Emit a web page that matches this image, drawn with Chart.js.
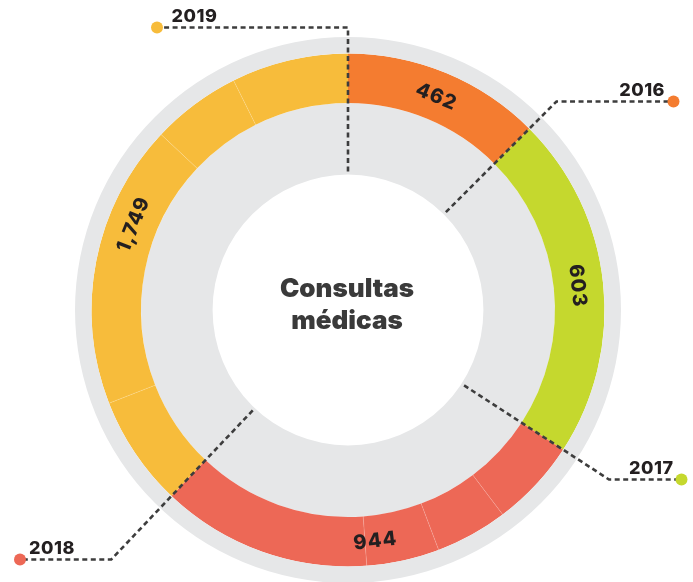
<!DOCTYPE html>
<html>
<head>
<meta charset="utf-8">
<script src="https://cdn.jsdelivr.net/npm/chart.js@4.4.1/dist/chart.umd.min.js"></script>
<style>
  html, body { margin: 0; padding: 0; background: #fff; }
  #wrap { width: 693px; height: 582px; }
</style>
</head>
<body>
<div id="wrap"><canvas id="consultas-chart" width="693" height="582"></canvas></div>
<script>
// data
const years = ['2016', '2017', '2018', '2019'];
const consultas = [462, 603, 944, 1749];
// arc sizes as drawn in the original (degrees); 2018 and 2019 show faint seams
const arc2016 = [45];
const arc2017 = [78];
const arc2018 = [19.9, 16.4, 16.5, 47.7];
const arc2019 = [25.2, 64.5, 20.3, 26.5];
const yearColors = ['#F47C30', '#C5D82E', '#ED6856', '#F7BC3B'];
const dotColors = ['#F47C30', '#C5D82E', '#ED6856', '#F7BC3B'];

// callout layout (dot x, row y, label x, label alignment)
const callouts = [
    { dotX: 673.5, rowY: 101.5, labelX: 665, align: 'right' },
    { dotX: 681.5, rowY: 479.5, labelX: 673.5, align: 'right' },
    { dotX: 20, rowY: 559.5, labelX: 29, align: 'left' },
    { dotX: 157, rowY: 27.5, labelX: 171.5, align: 'left' }
];

const gray = '#E6E7E8';
const ink = '#231F20';
const FONT = 'Inter, "Open Sans", sans-serif';

const arcs = [arc2016, arc2017, arc2018, arc2019];
const pieceData = [];
const pieceColor = [];
const pieceYear = [];
arcs.forEach((parts, i) => {
    parts.forEach(p => {
        pieceData.push(p);
        pieceColor.push(yearColors[i]);
        pieceYear.push(i);
    });
});

function fmt(n) {
    return n.toLocaleString('en-US');
}

// draws seams, values, leader lines and center title
const ringLabels = {
    id: 'ringLabels',
    afterDatasetsDraw(chart) {
        const ctx = chart.ctx;
        const els = chart.getDatasetMeta(1).data;
        const cx = els[0].x;
        const cy = els[0].y;
        const innerGray = chart.getDatasetMeta(2).data[0];

        // faint seams inside a year
        ctx.save();
        ctx.strokeStyle = 'rgba(255,255,255,0.22)';
        ctx.lineWidth = 0.8;
        els.forEach((a, k) => {
            if (k > 0 && pieceYear[k] === pieceYear[k - 1]) {
                const ang = a.startAngle;
                ctx.beginPath();
                ctx.moveTo(cx + Math.cos(ang) * a.innerRadius, cy + Math.sin(ang) * a.innerRadius);
                ctx.lineTo(cx + Math.cos(ang) * a.outerRadius, cy + Math.sin(ang) * a.outerRadius);
                ctx.stroke();
            }
        });
        ctx.restore();

        years.forEach((year, i) => {
            const mine = els.filter((_, k) => pieceYear[k] === i);
            const start = mine[0].startAngle;
            const end = mine[mine.length - 1].endAngle;
            const mid = (start + end) / 2;
            const r = (mine[0].innerRadius + mine[0].outerRadius) / 2;

            // value on the ring
            let rot = mid + Math.PI / 2;
            rot = Math.atan2(Math.sin(rot), Math.cos(rot));
            if (rot > Math.PI * 0.56) rot -= Math.PI;
            if (rot < -Math.PI * 0.56) rot += Math.PI;
            ctx.save();
            ctx.translate(cx + Math.cos(mid) * r, cy + Math.sin(mid) * r);
            ctx.rotate(rot);
            ctx.fillStyle = ink;
            ctx.font = '800 20px ' + FONT;
            ctx.textAlign = 'center';
            ctx.textBaseline = 'middle';
            ctx.letterSpacing = '1px';
            ctx.fillText(fmt(consultas[i]), 0, 1);
            ctx.restore();

            // leader line along the end boundary of the year
            const c = callouts[i];
            const r0 = innerGray.innerRadius + 3;
            const sx = cx + Math.cos(end) * r0;
            const sy = cy + Math.sin(end) * r0;
            const t = (c.rowY - cy) / Math.sin(end);
            let ex = cx + Math.cos(end) * t;
            if (!isFinite(ex) || Math.abs(Math.sin(end)) < 0.01) ex = cx;
            ctx.save();
            ctx.strokeStyle = '#3D3D3D';
            ctx.lineWidth = 2.6;
            ctx.setLineDash([5, 3.5]);
            ctx.beginPath();
            ctx.moveTo(sx, sy);
            ctx.lineTo(ex, c.rowY);
            ctx.lineTo(c.dotX, c.rowY);
            ctx.stroke();
            ctx.setLineDash([]);
            ctx.fillStyle = dotColors[i];
            ctx.beginPath();
            ctx.arc(c.dotX, c.rowY, 6, 0, Math.PI * 2);
            ctx.fill();
            ctx.fillStyle = ink;
            ctx.font = '800 18px ' + FONT;
            ctx.textAlign = c.align;
            ctx.textBaseline = 'alphabetic';
            ctx.letterSpacing = '0.5px';
            ctx.fillText(year, c.labelX, c.rowY - 6);
            ctx.restore();
        });

        // center title
        ctx.save();
        ctx.fillStyle = '#3A3A3A';
        ctx.font = '900 26px ' + FONT;
        ctx.textAlign = 'center';
        ctx.textBaseline = 'alphabetic';
        ctx.fillText('Consultas', cx - 1, 297);
        ctx.fillText('médicas', cx - 1, 329);
        ctx.restore();
    }
};

new Chart(document.querySelector('#consultas-chart').getContext('2d'), {
    type: 'doughnut',
    data: {
        labels: pieceYear.map(i => years[i]),
        datasets: [
            { data: [1], backgroundColor: gray, borderWidth: 0, weight: 16.5 },
            { data: pieceData, backgroundColor: pieceColor, borderWidth: 0, weight: 49.5 },
            { data: [1], backgroundColor: gray, borderWidth: 0, weight: 71.5 }
        ]
    },
    options: {
        responsive: false,
        animation: false,
        radius: 273,
        cutout: '49.6%',
        layout: { padding: { left: 3, right: 0, top: 38, bottom: 0 } },
        plugins: {
            legend: { display: false },
            tooltip: { enabled: false }
        }
    },
    plugins: [ringLabels]
});
</script>
</body>
</html>
